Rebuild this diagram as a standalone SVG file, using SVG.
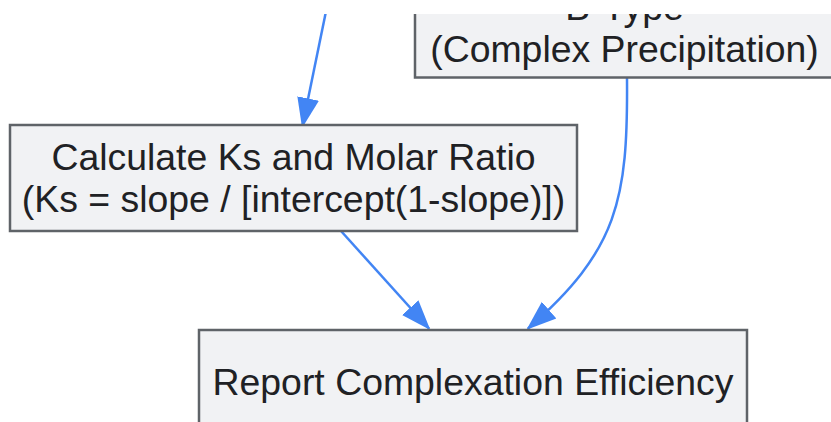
<svg xmlns="http://www.w3.org/2000/svg" width="831" height="422" viewBox="0 0 831 422">
  <style>
    .node rect { fill: #f1f2f4; stroke: #5f6368; stroke-width: 2.5; }
    .node text { font-family: "Liberation Sans", Arial, sans-serif; font-size: 37.4px; fill: #202124; text-anchor: middle; }
    .edge { fill: none; stroke: #4285f4; stroke-width: 2.5; marker-end: url(#arrow); }
  </style>
  <defs>
    <marker id="arrow" markerUnits="userSpaceOnUse" markerWidth="30" markerHeight="24" viewBox="0 0 30 24" refX="28" refY="12" orient="auto">
      <path d="M0,1 L30,12 L0,23 z" fill="#4285f4"/>
    </marker>
    <clipPath id="view">
      <rect x="0" y="14" width="831" height="408"/>
    </clipPath>
  </defs>
  <g clip-path="url(#view)">
    <g id="edges">
      <path class="edge" d="M327.5,4 L302.5,126"/>
      <path class="edge" d="M341,231 L429,328.5"/>
      <path class="edge" d="M627,78 C628,200 618,250 528,328.5"/>
    </g>
    <g id="node-btype" class="node">
      <rect x="415" y="-30" width="420" height="107.5"/>
      <text x="624.5" y="20">B-Type</text>
      <text x="624.5" y="62">(Complex Precipitation)</text>
    </g>
    <g id="node-calc" class="node">
      <rect x="10" y="125" width="567" height="106"/>
      <text x="293.5" y="170">Calculate Ks and Molar Ratio</text>
      <text x="293.5" y="212">(Ks = slope / [intercept(1-slope)])</text>
    </g>
    <g id="node-report" class="node">
      <rect x="199" y="330" width="548" height="120"/>
      <text x="473" y="395">Report Complexation Efficiency</text>
    </g>
  </g>
</svg>
